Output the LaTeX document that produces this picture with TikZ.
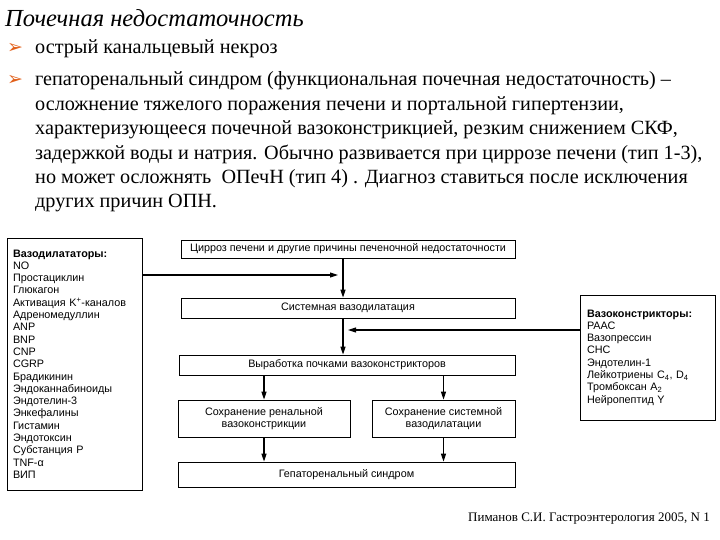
\documentclass[tikz,border=0pt]{standalone}
\usepackage{fontspec}
\setmainfont{Liberation Serif}
\setsansfont{Liberation Sans}
\newfontfamily\symfont{DejaVu Sans}
\usetikzlibrary{arrows.meta}
\definecolor{bulletcol}{RGB}{225,95,25}
\tikzset{
  flowbox/.style={draw, line width=0.8pt, inner sep=0pt, align=center,
    font=\sffamily\fontsize{10.8}{12}\selectfont},
  listbox/.style={draw, line width=0.8pt, inner xsep=6pt, align=left,
    font=\sffamily\fontsize{10.8}{12.3}\selectfont},
  flowarrow/.style={-{Triangle[length=8pt,width=5pt]}, line width=1.1pt},
  bodyline/.style={anchor=base west, inner sep=0pt,
    font=\rmfamily\fontsize{20.2}{24}\selectfont},
  bulletmark/.style={inner sep=0pt, text=bulletcol, font=\symfont\fontsize{19}{19}\selectfont}
}
\begin{document}
\begin{tikzpicture}[x=1pt, y=-1pt]
\useasboundingbox (0,0) rectangle (720,540);

% heading and text
\node[anchor=base west, inner sep=0pt, font=\rmfamily\itshape\fontsize{24.5}{24.5}\selectfont] (title) at (5,27) {Почечная недостаточность};
\node[bulletmark] (bulA) at (15,48) {➢};
\node[bulletmark] (bulB) at (15,80) {➢};
\node[bodyline] (itemA) at (35,54) {острый канальцевый некроз};
\node[bodyline] (lineB) at (35,86) {гепаторенальный синдром (функциональная почечная недостаточность) –};
\node[bodyline] (lineC) at (35,110.5) {осложнение тяжелого поражения печени и портальной гипертензии,};
\node[bodyline] (lineD) at (35,135) {характеризующееся почечной вазоконстрикцией, резким снижением СКФ,};
\node[bodyline] (lineE) at (35,159.5) {задержкой воды и натрия. Обычно развивается при циррозе печени (тип 1-3),};
\node[bodyline] (lineF) at (35,184) {но может осложнять \ ОПечН (тип 4) . Диагноз ставиться после исключения};
\node[bodyline] (lineG) at (35,207.5) {других причин ОПН.};

% central chain
\node[flowbox, minimum width=334pt, minimum height=18pt] (cirrhosis) at (348,249) {Цирроз печени и другие причины печеночной недостаточности};
\node[flowbox, minimum width=334pt, minimum height=20pt] (sysdil) at (348,308) {Системная вазодилатация};
\node[flowbox, minimum width=336pt, minimum height=20pt] (renalvc) at (347,365) {Выработка почками вазоконстрикторов};
\node[flowbox, minimum width=172pt, minimum height=37pt] (keepren) at (264,418.5) {Сохранение ренальной\\вазоконстрикции};
\node[flowbox, minimum width=143pt, minimum height=37pt] (keepsys) at (443.5,418.5) {Сохранение системной\\вазодилатации};
\node[flowbox, minimum width=337pt, minimum height=25pt] (hrs) at (346.5,474.5) {Гепаторенальный синдром};

% side lists
\node[listbox, minimum width=135pt, minimum height=252pt, text width=123pt] (dilators) at (74.5,364) {\textbf{Вазодилататоры:}\\
NO\\
Простациклин\\
Глюкагон\\
Активация K\textsuperscript{+}-каналов\\
Адреномедуллин\\
ANP\\
BNP\\
CNP\\
CGRP\\
Брадикинин\\
Эндоканнабиноиды\\
Эндотелин-3\\
Энкефалины\\
Гистамин\\
Эндотоксин\\
Субстанция P\\
TNF-α\\
ВИП};
\node[listbox, minimum width=135pt, minimum height=125pt, text width=121pt, inner xsep=7pt] (constrictors) at (647.5,357.5) {\textbf{Вазоконстрикторы:}\\
РААС\\
Вазопрессин\\
СНС\\
Эндотелин-1\\
Лейкотриены C\textsubscript{4}, D\textsubscript{4}\\
Тромбоксан A\textsubscript{2}\\
Нейропептид Y};

% connectors
\coordinate (dilend) at (338,275);
\coordinate (conend) at (348,330);
\draw[flowarrow] ([xshift=-5pt]cirrhosis.south) -- ([xshift=-5pt]sysdil.north);
\draw[flowarrow] ([xshift=-5pt]sysdil.south) -- ([xshift=-4pt]renalvc.north);
\draw[flowarrow] (dilators.east |- dilend) -- (dilend);
\draw[flowarrow] (constrictors.west |- conend) -- (conend);
\draw[flowarrow] (renalvc.south -| keepren) -- (keepren.north);
\draw[flowarrow] (renalvc.south -| keepsys) -- (keepsys.north);
\draw[flowarrow] (keepren.south) -- (hrs.north -| keepren);
\draw[flowarrow] (keepsys.south) -- (hrs.north -| keepsys);

% source
\node[anchor=base east, inner sep=0pt, font=\rmfamily\fontsize{13}{13}\selectfont] (source) at (710,521) {Пиманов С.И. Гастроэнтерология 2005, N 1};
\end{tikzpicture}
\end{document}
